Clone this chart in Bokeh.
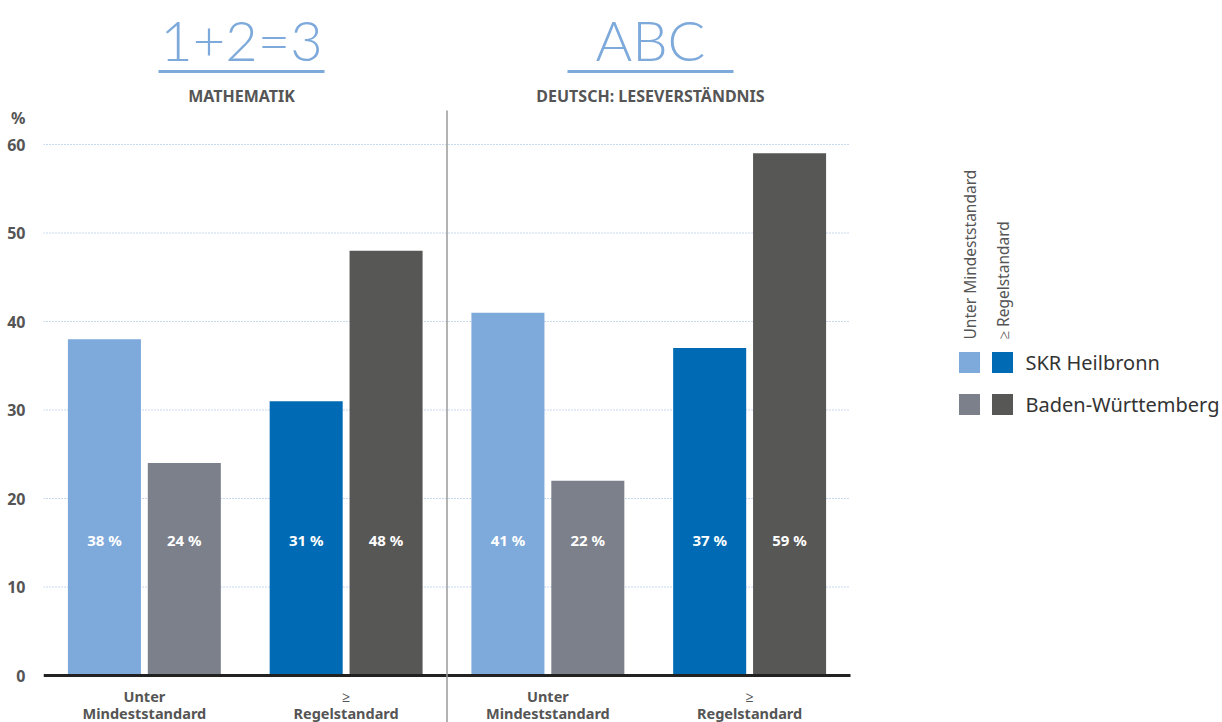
import math
from bokeh.plotting import figure
from bokeh.models import Range1d, FixedTicker
from bokeh.core.properties import value
from bokeh.embed import file_html
from bokeh.resources import INLINE

# ---------------- data ----------------
subjects = ["MATHEMATIK", "DEUTSCH: LESEVERSTÄNDNIS"]
subject_icons = ["1+2=3", "ABC"]
level_lines = [["Unter", "Mindeststandard"], ["≥", "Regelstandard"]]
level_names = ["Unter Mindeststandard", "≥ Regelstandard"]
series = ["SKR Heilbronn", "Baden-Württemberg"]
# order: Mathe-Unter, Mathe-Regel, Deutsch-Unter, Deutsch-Regel
skr_values = [38, 31, 41, 37]
bw_values = [24, 48, 22, 59]
y_ticks = [0, 10, 20, 30, 40, 50, 60]

# colours: [unter, regel] for each series
skr_colors = ["#7DA9DB", "#006BB4"]
bw_colors = ["#7C808B", "#575756"]

FONT = "Noto Sans"

# ---------------- geometry helpers (pixel -> data) ----------------
W, H = 1222, 722
LEFT = 43
XPX = 201.75   # pixels per category
YPX = 8.85     # pixels per percent
Y0 = 675       # pixel row of 0 %

def X(px):
    return (px - LEFT) / XPX

def Y(py):
    return (Y0 - py) / YPX

p = figure(width=W, height=H, output_backend="svg", toolbar_location=None,
           x_range=Range1d(0, X(W)), y_range=Range1d(Y(H), Y(0)),
           x_axis_type=None, min_border_left=LEFT, min_border_right=0,
           min_border_top=0, min_border_bottom=0)
p.outline_line_color = None
p.background_fill_color = "white"
p.border_fill_color = "white"
p.xgrid.visible = False
p.ygrid.visible = False

# y axis
yax = p.yaxis[0]
yax.ticker = FixedTicker(ticks=y_ticks + [63])
yax.major_label_overrides = {63: "%"}
yax.axis_line_color = None
yax.major_tick_line_color = None
yax.minor_tick_line_color = None
yax.major_label_standoff = 12
yax.major_label_text_font = FONT
yax.major_label_text_font_style = "bold"
yax.major_label_text_font_size = "16px"
yax.major_label_text_color = "#555555"

# dotted grid lines inside the chart area
grid_vals = [v for v in y_ticks if v > 0]
p.segment(x0=[0] * len(grid_vals), x1=[4] * len(grid_vals), y0=grid_vals, y1=grid_vals,
          line_color="#8FB2DC", line_width=1, line_dash="1 2")

# bars
n = len(skr_values)
centers = [i + 0.5 for i in range(n)]
off = 0.198
bw = 0.362
skr_x = [c - off for c in centers]
bw_x = [c + off for c in centers]
skr_col = [skr_colors[i % 2] for i in range(n)]
bw_col = [bw_colors[i % 2] for i in range(n)]
p.vbar(x=skr_x, top=skr_values, width=bw, color=skr_col, line_color=None)
p.vbar(x=bw_x, top=bw_values, width=bw, color=bw_col, line_color=None)

# value labels
ylab = Y(539)
p.text(x=skr_x, y=[ylab] * n, text=[f"{v} %" for v in skr_values],
       text_align="center", text_baseline="middle", text_color="white",
       text_font=value(FONT), text_font_style="bold", text_font_size="15px")
p.text(x=bw_x, y=[ylab] * n, text=[f"{v} %" for v in bw_values],
       text_align="center", text_baseline="middle", text_color="white",
       text_font=value(FONT), text_font_style="bold", text_font_size="15px")

# zero line
p.segment(x0=[0], x1=[4], y0=[0], y1=[0], line_color="#222222", line_width=3)

# divider between subjects
p.segment(x0=[2], x1=[2], y0=[Y(H)], y1=[Y(110)], line_color="#9A9A9A", line_width=1.5)

# category labels below axis
for i, c in enumerate(centers):
    l1, l2 = level_lines[i % 2]
    p.text(x=[c], y=[Y(695)], text=[l1], text_align="center", text_baseline="middle",
           text_color="#555555", text_font=value(FONT), text_font_style="bold",
           text_font_size="14.5px")
    p.text(x=[c], y=[Y(712)], text=[l2], text_align="center", text_baseline="middle",
           text_color="#555555", text_font=value(FONT), text_font_style="bold",
           text_font_size="14.5px")

# subject headers
title_px = [241, 650]
for j, (subj, icon) in enumerate(zip(subjects, subject_icons)):
    cx = X(title_px[j])
    p.text(x=[cx], y=[Y(39)], text=[icon], text_align="center", text_baseline="middle",
           text_color="#7DA9DB", text_font=value("Lato Light"),
           text_font_size="56px")
    p.segment(x0=[cx - X(LEFT + 83)], x1=[cx + X(LEFT + 83)], y0=[Y(71)], y1=[Y(71)],
              line_color="#7DA9DB", line_width=3)
    p.text(x=[cx], y=[Y(95)], text=[subj], text_align="center", text_baseline="middle",
           text_color="#555555", text_font=value(FONT), text_font_style="bold",
           text_font_size="16px")

# legend
col_px = [969, 1002]
for k, name in enumerate(level_names):
    p.text(x=[X(col_px[k])], y=[Y(339)], text=[name], angle=math.pi / 2,
           text_align="left", text_baseline="middle", text_color="#555555",
           text_font=value(FONT), text_font_size="15.5px")
row_px = [362, 404]
for r, name in enumerate(series):
    cols = skr_colors if r == 0 else bw_colors
    p.scatter(x=[X(cp) for cp in col_px], y=[Y(row_px[r])] * 2, marker="square",
              size=21, color=cols, line_color=None)
    p.text(x=[X(1025)], y=[Y(row_px[r])], text=[name], text_align="left",
           text_baseline="middle", text_color="#333333",
           text_font=value(FONT), text_font_size="20px")

open("out.html", "w").write(file_html(p, INLINE))
